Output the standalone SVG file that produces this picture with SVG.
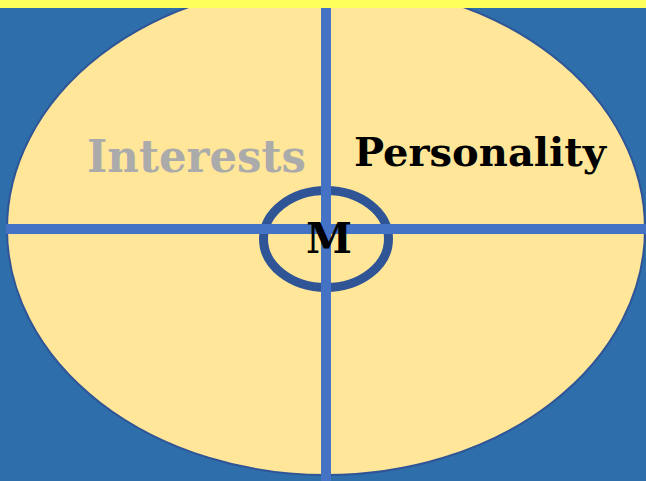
<svg xmlns="http://www.w3.org/2000/svg" width="646" height="481" viewBox="0 0 646 481">
<style>
.lbl{font-family:"DejaVu Serif","Liberation Serif",serif;font-weight:bold}
.bar{fill:#4472C4}
</style>
<rect x="0" y="0" width="646" height="481" fill="#2E6EAB"/>
<g id="field">
<ellipse cx="326" cy="229" rx="319" ry="246" fill="#FFE699" stroke="#2F5597" stroke-width="2"/>
</g>
<g id="center-ring">
<ellipse cx="326" cy="239" rx="62.5" ry="48.5" fill="none" stroke="#2F5597" stroke-width="9"/>
</g>
<g id="connectors">
<rect class="bar" x="321" y="0" width="10" height="481"/>
<rect class="bar" x="6" y="224" width="640" height="10"/>
</g>
<rect x="0" y="0" width="646" height="8" fill="#FFFF5A"/>
<g id="interests">
<text class="lbl" x="87" y="172" font-size="44" fill="#ABABAB" textLength="219" lengthAdjust="spacingAndGlyphs">Interests</text>
</g>
<g id="personality">
<text class="lbl" x="354" y="166" font-size="39" fill="#000" textLength="252" lengthAdjust="spacingAndGlyphs">Personality</text>
</g>
<g id="m">
<text class="lbl" x="306" y="253" font-size="42" fill="#000" textLength="46" lengthAdjust="spacingAndGlyphs">M</text>
</g>
</svg>
